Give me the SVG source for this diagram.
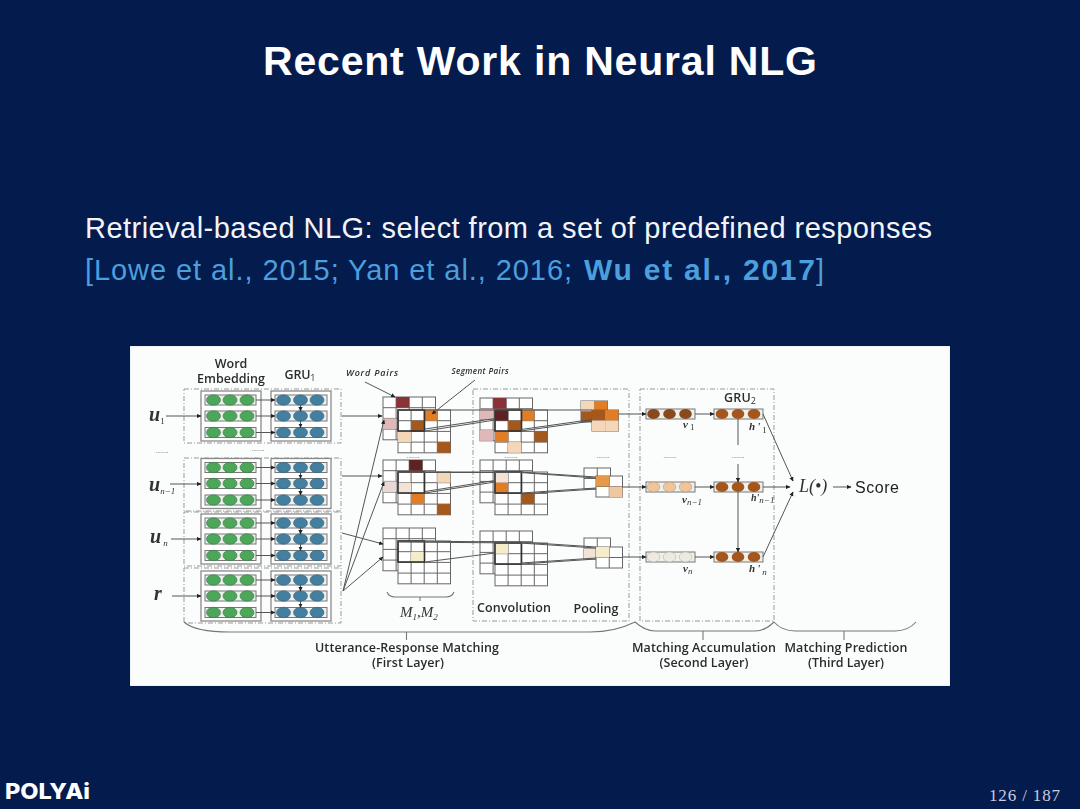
<svg xmlns="http://www.w3.org/2000/svg" width="1080" height="809" viewBox="0 0 1080 809">
<style>
.sans{font-family:"Liberation Sans",Arial,sans-serif}
.lbl{font-family:"Open Sans","Liberation Sans",sans-serif;fill:#2c2c2c;text-anchor:middle;font-size:12.500px;font-weight:600}
.math{font-family:"Liberation Serif","Times New Roman",serif;font-style:italic;font-weight:bold;fill:#333}
.dots{font-family:"Liberation Sans",sans-serif;font-size:7px;fill:#555;text-anchor:middle}
.sub{font-size:9px;font-weight:normal}
.box{fill:none;stroke:#999;stroke-width:1;stroke-dasharray:5 2 1 2}
.outer{fill:#fff;stroke:#8a8a8a;stroke-width:1.300}
.row{fill:#eef0ee;stroke:#777;stroke-width:1}
.wg{fill:#4ea65a;stroke:#2f7d40;stroke-width:.6}
.gb{fill:#447f9f;stroke:#2f6582;stroke-width:.6}
.grid{fill:#fff;stroke:#666;stroke-width:1}
.gl{fill:none;stroke:#666;stroke-width:1}
.thick{fill:none;stroke:#333;stroke-width:1.600}
.cn{fill:none;stroke:#555;stroke-width:1}
.ar{fill:none;stroke:#555;stroke-width:1;marker-end:url(#ah)}
.br{fill:none;stroke:#777;stroke-width:1.100}
.dr{fill:#8a3035}.dk{fill:#5d2024}.pk{fill:#e0b8b8}.pl{fill:#ead8d4}.or{fill:#e07d28}.bn{fill:#a5581e}.lt{fill:#f4d6b8}.pa{fill:#f5edc8}.fa{fill:#f3e2d6}
.hb{fill:#a5561e}.vb{fill:#8a4a1e}.vl{fill:#eec59a;stroke:#b98a5a;stroke-width:.5}.vp{fill:#efeadf;stroke:#aaa;stroke-width:.5}
</style>
<defs>
<filter id="soft" x="0" y="0" width="100%" height="100%"><feGaussianBlur stdDeviation="0.4"/></filter>
<marker id="ah" markerUnits="userSpaceOnUse" markerWidth="5" markerHeight="5" refX="4" refY="2.500" orient="auto"><path d="M0 0.400L4.500 2.500L0 4.600Z" fill="#222"/></marker>
<g id="embRow"><rect class="row" x="205" y="-5" width="51" height="10"/><ellipse class="wg" cx="213.500" cy="0" rx="7" ry="5.200"/><ellipse class="wg" cx="230" cy="0" rx="7" ry="5.200"/><ellipse class="wg" cx="247" cy="0" rx="7" ry="5.200"/></g>
<g id="gruRow"><rect class="row" x="275" y="-5" width="52" height="10"/><ellipse class="gb" cx="283.500" cy="0" rx="7" ry="5.200"/><ellipse class="gb" cx="300.500" cy="0" rx="7" ry="5.200"/><ellipse class="gb" cx="317" cy="0" rx="7" ry="5.200"/></g>
<g id="blk"><rect class="outer" x="201" y="-25" width="60" height="50"/><rect class="outer" x="271" y="-25" width="60" height="50"/><use href="#embRow" y="-16"/><use href="#embRow"/><use href="#embRow" y="16.500"/><use href="#gruRow" y="-16"/><use href="#gruRow"/><use href="#gruRow" y="16.500"/></g>
<g id="g4"><rect class="grid" width="52.500" height="42.800"/><path class="gl" d="M13.100 0V42.800M26.200 0V42.800M39.300 0V42.800M0 10.700H52.500M0 21.400H52.500M0 32.100H52.500"/></g>
<g id="g2"><rect class="grid" width="26.500" height="21"/><path class="gl" d="M13.250 0V21M0 10.500H26.500"/></g>
<g id="seq"><rect class="row" x="0" y="-5" width="49" height="10"/></g>
</defs>

<rect id="background" width="1080" height="809" fill="#041b4e"/>
<text id="title" class="sans" x="263" y="75" font-size="41" font-weight="bold" fill="#fff" textLength="554" lengthAdjust="spacing">Recent Work in Neural NLG</text>
<text id="line1" class="sans" x="85" y="238" font-size="29" fill="#f2f4f8" textLength="847" lengthAdjust="spacing">Retrieval-based NLG: select from a set of predefined responses</text>
<text class="sans" x="85" y="280" font-size="29" fill="#4b9fdc" textLength="487" lengthAdjust="spacing">[Lowe et al., 2015; Yan et al., 2016;</text>
<text class="sans" x="584" y="280" font-size="30" font-weight="bold" fill="#4b9fdc" textLength="231" lengthAdjust="spacing">Wu et al., 2017</text>
<text class="sans" x="816" y="280" font-size="29" fill="#4b9fdc">]</text>

<g id="figure-area" filter="url(#soft)">
<rect id="figure" x="130" y="346" width="820" height="340" fill="#fbfcfc" stroke="#dfeaf2" stroke-width="1"/>

<g id="layer-boxes">
<rect class="box" x="184" y="389" width="157" height="54"/>
<rect class="box" x="184" y="458" width="157" height="53"/>
<rect class="box" x="184" y="512" width="157" height="54"/>
<rect class="box" x="184" y="568" width="157" height="55"/>
<rect class="box" x="473" y="389" width="156" height="232"/>
<rect class="box" x="640" y="389" width="134" height="232"/>
</g>

<g id="utt-1"><use href="#blk" y="416"/></g>
<g id="utt-n1"><use href="#blk" y="483.500"/></g>
<g id="utt-n"><use href="#blk" y="539"/></g>
<g id="resp"><use href="#blk" y="596"/></g>

<g id="m-1"><use href="#g4" x="383" y="397"/>
<rect class="dr" x="396.100" y="397" width="13.100" height="10.700"/><rect class="pk" x="383" y="418.400" width="13.100" height="10.700"/>
<use href="#g4" x="398" y="410"/>
<rect class="or" x="424.200" y="410" width="13.100" height="10.700"/><rect class="bn" x="411.100" y="420.700" width="13.100" height="10.700"/><rect class="lt" x="398" y="431.400" width="13.100" height="10.700"/><rect class="bn" x="437.300" y="442.100" width="13.100" height="10.700"/>
<rect class="thick" x="398" y="410" width="26.500" height="21"/></g>
<g id="m-2"><use href="#g4" x="383" y="460"/>
<rect class="dk" x="409.200" y="460" width="13.100" height="10.700"/><rect class="pl" x="383" y="481.400" width="13.100" height="10.700"/>
<use href="#g4" x="398" y="472"/>
<rect class="lt" x="437.300" y="472" width="13.100" height="10.700"/><rect class="fa" x="398" y="482.700" width="13.100" height="10.700"/><rect class="or" x="411.100" y="493.400" width="13.100" height="10.700"/><rect class="bn" x="437.300" y="504.100" width="13.100" height="10.700"/>
<rect class="thick" x="398" y="472" width="26.500" height="21"/></g>
<g id="m-3"><use href="#g4" x="383" y="528"/><use href="#g4" x="398" y="541"/>
<rect class="pa" x="411.100" y="551.700" width="13.100" height="10.700"/>
<rect class="thick" x="398" y="541" width="26.500" height="21"/></g>

<g id="conv-1"><use href="#g4" x="480" y="398"/>
<rect class="dr" x="493.100" y="398" width="13.100" height="10.700"/><rect class="pk" x="480" y="408.700" width="13.100" height="10.700"/><rect class="pk" x="480" y="430.100" width="13.100" height="10.700"/>
<use href="#g4" x="495" y="410"/>
<rect class="dk" x="495" y="410" width="13.100" height="10.700"/><rect class="or" x="521.200" y="410" width="13.100" height="10.700"/><rect class="bn" x="508.100" y="420.700" width="13.100" height="10.700"/><rect class="or" x="495" y="431.400" width="13.100" height="10.700"/><rect class="bn" x="534.300" y="431.400" width="13.100" height="10.700"/><rect class="lt" x="508.100" y="442.100" width="13.100" height="10.700"/>
<rect class="thick" x="495" y="410" width="26.500" height="21"/></g>
<g id="conv-2"><use href="#g4" x="480" y="460"/><use href="#g4" x="495" y="472"/>
<rect class="fa" x="495" y="472" width="13.100" height="10.700"/><rect class="or" x="495" y="482.700" width="13.100" height="10.700"/><rect class="bn" x="521.200" y="493.400" width="13.100" height="10.700"/>
<rect class="thick" x="495" y="472" width="26.500" height="21"/></g>
<g id="conv-3"><use href="#g4" x="480" y="531"/><use href="#g4" x="495" y="543"/>
<rect class="pa" x="495" y="543" width="13.100" height="10.700"/>
<rect class="thick" x="495" y="543" width="26.500" height="21"/></g>

<g id="pool-1"><use href="#g2" x="581" y="401"/>
<rect class="lt" x="581" y="401" width="13.250" height="10.500"/><rect class="or" x="594.250" y="401" width="13.250" height="10.500"/><rect class="bn" x="581" y="411.500" width="13.250" height="10.500"/>
<use href="#g2" x="592" y="410"/>
<rect class="bn" x="592" y="410" width="13.250" height="10.500"/><rect class="or" x="605.250" y="410" width="13.250" height="10.500"/><rect class="lt" x="592" y="420.500" width="13.250" height="10.500"/><rect class="lt" x="605.250" y="420.500" width="13.250" height="10.500"/></g>
<g id="pool-2"><use href="#g2" x="584" y="468"/><use href="#g2" x="596" y="476"/>
<rect x="596" y="476" width="13.250" height="10.500" fill="#e89848"/><rect x="609.250" y="486.500" width="13.250" height="10.500" fill="#f0c8a0"/></g>
<g id="pool-3"><use href="#g2" x="584" y="538"/><rect class="fa" x="584" y="548.500" width="13.250" height="10.500"/><use href="#g2" x="596" y="547"/>
<rect class="pa" x="596" y="547" width="13.250" height="10.500"/></g>

<g id="v-1"><use href="#seq" x="646" y="414"/><ellipse class="vb" cx="653.500" cy="414" rx="6.300" ry="5"/><ellipse class="vb" cx="669.500" cy="414" rx="6.300" ry="5"/><ellipse class="vb" cx="685.500" cy="414" rx="6.300" ry="5"/></g>
<g id="h-1"><use href="#seq" x="714" y="414"/><ellipse class="hb" cx="722" cy="414" rx="6.300" ry="5"/><ellipse class="hb" cx="738" cy="414" rx="6.300" ry="5"/><ellipse class="hb" cx="754" cy="414" rx="6.300" ry="5"/></g>
<g id="v-2"><use href="#seq" x="646" y="487"/><ellipse class="vl" cx="653.500" cy="487" rx="6.300" ry="5"/><ellipse class="vl" cx="669.500" cy="487" rx="6.300" ry="5"/><ellipse class="vl" cx="685.500" cy="487" rx="6.300" ry="5"/></g>
<g id="h-2"><use href="#seq" x="714" y="487"/><ellipse class="hb" cx="722" cy="487" rx="6.300" ry="5"/><ellipse class="hb" cx="738" cy="487" rx="6.300" ry="5"/><ellipse class="hb" cx="754" cy="487" rx="6.300" ry="5"/></g>
<g id="v-3"><use href="#seq" x="646" y="557"/><ellipse class="vp" cx="653.500" cy="557" rx="6.300" ry="5"/><ellipse class="vp" cx="669.500" cy="557" rx="6.300" ry="5"/><ellipse class="vp" cx="685.500" cy="557" rx="6.300" ry="5"/></g>
<g id="h-3"><use href="#seq" x="714" y="557"/><ellipse class="hb" cx="722" cy="557" rx="6.300" ry="5"/><ellipse class="hb" cx="738" cy="557" rx="6.300" ry="5"/><ellipse class="hb" cx="754" cy="557" rx="6.300" ry="5"/></g>

<g id="connectors">
<path class="ar" d="M166 416H201"/><path class="ar" d="M170 484H201"/><path class="ar" d="M171 539H201"/><path class="ar" d="M172 596H201"/>
<path class="ar" d="M256 400H275"/><path class="ar" d="M256 416H275"/><path class="ar" d="M256 432.500H275"/>
<path class="ar" d="M256 467.500H275"/><path class="ar" d="M256 483.500H275"/><path class="ar" d="M256 500H275"/>
<path class="ar" d="M256 523H275"/><path class="ar" d="M256 539H275"/><path class="ar" d="M256 555.500H275"/>
<path class="ar" d="M256 580H275"/><path class="ar" d="M256 596H275"/><path class="ar" d="M256 612.500H275"/>
<path class="ar" d="M300.500 405V411"/><path class="ar" d="M300.500 421V427.500"/>
<path class="ar" d="M300.500 472.500V478.500"/><path class="ar" d="M300.500 488.500V495"/>
<path class="ar" d="M300.500 528V534"/><path class="ar" d="M300.500 544V550.500"/>
<path class="ar" d="M300.500 585V591"/><path class="ar" d="M300.500 601V607.500"/>
<path class="ar" d="M342 416H382"/><path class="ar" d="M342 476H382"/><path class="ar" d="M342 533L383 544"/>
<path class="ar" d="M343 591L384 420"/><path class="ar" d="M343 591L384 482"/><path class="ar" d="M343 591L383 557"/>
<path class="cn" d="M398 410H592"/>
<path class="cn" d="M425 431L495 420M425 429L495 418.500M521 431L592 421M521 429.500L592 419.500"/>
<path class="cn" d="M398 472H520L596 477M398 472.500H520L596 478"/>
<path class="cn" d="M425 493L495 482M425 491.500L495 480.500M521 493L596 488M521 494L596 489"/>
<path class="cn" d="M398 541L520 542L596 547M398 542L520 543L596 548"/>
<path class="cn" d="M425 562L495 553M521 563L596 558M521 564L596 559"/>
<path class="ar" d="M619 414H646"/><path class="ar" d="M622 487H646"/><path class="ar" d="M622 557H646"/>
<path class="ar" d="M695 414H714"/><path class="ar" d="M695 487H714"/><path class="ar" d="M695 557H714"/>
<path class="cn" d="M738 419V445"/><path class="ar" d="M738 464V482"/><path class="cn" d="M738 492V530"/><path class="ar" d="M738 530V552"/>
<path class="ar" d="M763 414L793 481"/><path class="ar" d="M763 487H790"/><path class="ar" d="M763 557L793 492"/>
<path class="ar" d="M833 487H851"/>
<path class="ar" d="M365 382L395 397"/><path class="ar" d="M475 380L432 414"/>
</g>

<g id="braces">
<path class="br" d="M184 622Q195 632 230 632H590Q615 632 635 622Q645 631 655 631H755Q765 631 774 622Q782 631 795 631H895Q908 631 916 622"/>
<path class="br" d="M406.500 632V640M703 631V640M844 631V640"/>
<path class="br" d="M387 592Q389 597 395 597H446Q452 597 454 592M420 597V601"/>
</g>

<g id="labels">
<text class="lbl" x="231" y="368">Word</text>
<text class="lbl" x="231" y="383" textLength="68">Embedding</text>
<text class="lbl" x="300" y="379" textLength="31">GRU<tspan class="sub" font-size="8" dy="2">1</tspan></text>
<text class="lbl" x="372" y="376" font-weight="bold" font-style="italic" style="font-size:9px" textLength="52">Word Pairs</text>
<text class="lbl" x="480" y="374" font-style="italic" style="font-size:8px" textLength="57">Segment Pairs</text>
<text class="lbl" x="514" y="612" textLength="74">Convolution</text>
<text class="lbl" x="596" y="613" textLength="45">Pooling</text>
<text class="lbl" x="740" y="402" textLength="32">GRU<tspan class="sub" font-size="8" dy="2">2</tspan></text>
<text class="sans" x="855" y="493" font-size="16" fill="#222" textLength="44">Score</text>
<text class="lbl" x="407" y="652" textLength="184">Utterance-Response Matching</text>
<text class="lbl" x="408" y="667" textLength="72">(First Layer)</text>
<text class="lbl" x="704" y="652" textLength="144">Matching Accumulation</text>
<text class="lbl" x="704" y="667" textLength="89">(Second Layer)</text>
<text class="lbl" x="846" y="652" textLength="123">Matching Prediction</text>
<text class="lbl" x="846" y="667" textLength="76">(Third Layer)</text>
<text class="math" x="149" y="421" font-size="20">u<tspan class="sub" dy="3" font-size="9" font-style="normal">1</tspan></text>
<text class="math" x="149" y="491" font-size="20">u<tspan class="sub" dy="3" font-size="9">n−1</tspan></text>
<text class="math" x="150" y="543" font-size="20">u<tspan class="sub" dx="2" dy="3" font-size="9">n</tspan></text>
<text class="math" x="154" y="600" font-size="20">r</text>
<text class="math" x="400" y="617" font-size="15" style="font-weight:normal">M<tspan class="sub" dy="3">1</tspan><tspan dy="-3" font-size="15">,M</tspan><tspan class="sub" dy="3">2</tspan></text>
<text class="math" x="683" y="428" font-size="11">v<tspan class="sub" dx="2" dy="2" font-size="6" font-style="normal">1</tspan></text>
<text class="math" x="749" y="430" font-size="11">h<tspan dx="2">'</tspan><tspan class="sub" dx="2" dy="3" font-size="6" font-style="normal">1</tspan></text>
<text class="math" x="682" y="503" font-size="11">v<tspan class="sub" dy="2" font-size="6">n−1</tspan></text>
<text class="math" x="751" y="501" font-size="10">h'<tspan class="sub" dy="2" font-size="5">n−1</tspan></text>
<text class="math" x="683" y="572" font-size="11">v<tspan class="sub" dy="2" font-size="6">n</tspan></text>
<text class="math" x="749" y="572" font-size="11">h<tspan dx="2">'</tspan><tspan class="sub" dx="2" dy="3" font-size="6">n</tspan></text>
<text class="math" x="799" y="492" font-size="18" style="font-weight:normal">L(•)</text>
<text class="dots" x="162" y="453">.......</text><text class="dots" x="258" y="451">.......</text>
<text class="dots" x="413" y="458">.......</text><text class="dots" x="511" y="458">.......</text><text class="dots" x="603" y="458">.......</text>
<text class="dots" x="670" y="458">.......</text><text class="dots" x="738" y="458">.......</text>
</g>
</g>

<text id="logo" x="5" y="799" font-family="Inter,Liberation Sans,sans-serif" font-size="22" font-weight="800" fill="#fff" textLength="85" lengthAdjust="spacingAndGlyphs">POLYAi</text>
<text id="page" x="989" y="801" font-family="Liberation Serif,serif" font-size="17" fill="#c8cedb" textLength="71">126 / 187</text>
</svg>
